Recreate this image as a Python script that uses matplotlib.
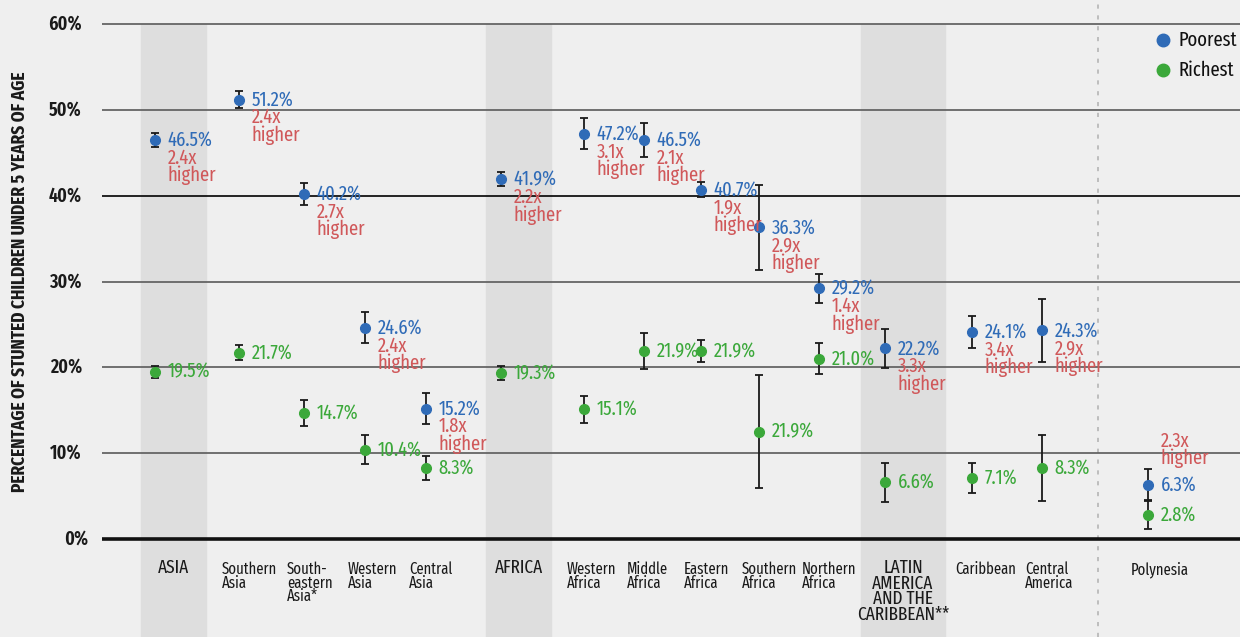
import matplotlib
matplotlib.use("Agg")
import matplotlib.pyplot as plt

# data
regions = ["ASIA", "Southern\nAsia", "South-\neastern\nAsia*", "Western\nAsia", "Central\nAsia",
           "AFRICA", "Western\nAfrica", "Middle\nAfrica", "Eastern\nAfrica", "Southern\nAfrica",
           "Northern\nAfrica", "LATIN\nAMERICA\nAND THE\nCARIBBEAN**", "Caribbean", "Central\nAmerica",
           "Polynesia"]
is_group = [True, False, False, False, False, True, False, False, False, False, False,
            True, False, False, False]

poorest = [46.5, 51.2, 40.2, 24.6, 15.2, 41.9, 47.2, 46.5, 40.7, 36.3, 29.2, 22.2, 24.1, 24.3, 6.3]
poorest_err = [0.8, 1.0, 1.3, 1.8, 1.8, 0.8, 1.8, 2.0, 0.9, 5.0, 1.7, 2.3, 1.9, 3.7, 1.8]
poorest_lbl = ["46.5%", "51.2%", "40.2%", "24.6%", "15.2%", "41.9%", "47.2%", "46.5%", "40.7%",
               "36.3%", "29.2%", "22.2%", "24.1%", "24.3%", "6.3%"]

richest = [19.5, 21.7, 14.7, 10.4, 8.3, 19.3, 15.1, 21.9, 21.9, 12.5, 21.0, 6.6, 7.1, 8.3, 2.8]
richest_err = [0.7, 0.9, 1.5, 1.7, 1.4, 0.8, 1.6, 2.1, 1.3, 6.6, 1.8, 2.3, 1.75, 3.85, 1.6]
richest_lbl = ["19.5%", "21.7%", "14.7%", "10.4%", "8.3%", "19.3%", "15.1%", "21.9%", "21.9%",
               "21.9%", "21.0%", "6.6%", "7.1%", "8.3%", "2.8%"]

ratio = ["2.4x", "2.4x", "2.7x", "2.4x", "1.8x", "2.2x", "3.1x", "2.1x", "1.9x", "2.9x",
         "1.4x", "3.3x", "3.4x", "2.9x", "2.3x"]

yticks = [0, 10, 20, 30, 40, 50, 60]

# layout (pixel columns of the reference)
xpos = [155, 239, 304, 365, 426, 501, 584, 644, 701, 759, 819, 885, 972, 1042, 1148]
bands = [(141, 206), (486, 551), (861, 945)]

BLUE = "#2f6bb7"
GREEN = "#3ba83a"
RED = "#d0585a"
BG = "#efefef"

plt.rcParams["font.family"] = ["Fira Sans Extra Condensed", "Barlow Condensed", "DejaVu Sans"]

fig = plt.figure(figsize=(12.4, 6.37), dpi=100, facecolor=BG)
ax = fig.add_axes([0, 0, 1, 1])
ax.set_facecolor(BG)
ax.axis("off")

# pixel rows: 60% at y=24, 0% at y=539
ppu = (539 - 24) / 60.0
top = 60 + 24 / ppu
bottom = -(637 - 539) / ppu
ax.set_xlim(0, 1240)
ax.set_ylim(bottom, top)

for x0, x1 in bands:
    ax.axvspan(x0, x1, ymin=0, ymax=(60 - bottom) / (top - bottom), color="#dedede", zorder=0)

ax.vlines(1098, bottom, top, colors="#b5b5b5", linestyles=(0, (2.5, 4)), lw=1.2, zorder=0)

for t in yticks:
    if t == 0:
        ax.hlines(t, 102, 1240, colors="#111111", lw=2.6, zorder=1)
    else:
        ax.hlines(t, 102, 1240, colors="#000000" if t == 40 else "#5a5a5a", lw=1.2, zorder=1)
    ax.text(88 if t == 0 else 82, t, f"{t}%", ha="right", va="center", fontsize=14,
            fontweight="semibold", color="#1a1a1a")

ax.text(20, 30, "PERCENTAGE OF STUNTED CHILDREN UNDER 5 YEARS OF AGE", rotation=90,
        ha="center", va="center", fontsize=13.5, fontweight="bold", color="#1a1a1a")

ax.errorbar(xpos, poorest, yerr=poorest_err, fmt="o", color=BLUE, ms=7, ecolor="#1a1a1a",
            elinewidth=1.3, capsize=3, capthick=1.3, zorder=3)
ax.errorbar(xpos, richest, yerr=richest_err, fmt="o", color=GREEN, ms=7, ecolor="#1a1a1a",
            elinewidth=1.3, capsize=3, capthick=1.3, zorder=3)

for i, x in enumerate(xpos):
    ax.annotate(poorest_lbl[i], (x, poorest[i]), xytext=(9, 0), textcoords="offset points",
                ha="left", va="center", fontsize=14.5, color=BLUE, zorder=4)
    ax.annotate(richest_lbl[i], (x, richest[i]), xytext=(9, 0), textcoords="offset points",
                ha="left", va="center", fontsize=14.5, color=GREEN, zorder=4)
    if regions[i] == "Polynesia":
        ax.annotate(ratio[i] + "\nhigher", (x, poorest[i]), xytext=(9, 12), textcoords="offset points",
                    ha="left", va="bottom", fontsize=14.5, color=RED, linespacing=0.85, zorder=4)
    else:
        ax.annotate(ratio[i] + "\nhigher", (x, poorest[i]), xytext=(9, -6), textcoords="offset points",
                    ha="left", va="top", fontsize=14.5, color=RED, linespacing=0.85, zorder=4)

for i, x in enumerate(xpos):
    if is_group[i]:
        b = [bb for bb in bands if bb[0] <= x <= bb[1]][0]
        ax.text((b[0] + b[1]) / 2, -2.3, regions[i], ha="center", va="top", fontsize=13.5,
                color="#1a1a1a", linespacing=0.85)
    else:
        ax.text(x - 17, -2.6, regions[i], ha="left", va="top", fontsize=11.5,
                color="#1a1a1a", linespacing=0.8)

# legend
ax.plot([1163], [58.15], "o", color=BLUE, ms=9)
ax.plot([1163], [54.65], "o", color=GREEN, ms=9)
ax.text(1178, 58.15, "Poorest", ha="left", va="center", fontsize=14.5, color="#111111")
ax.text(1178, 54.65, "Richest", ha="left", va="center", fontsize=14.5, color="#111111")

fig.savefig("out.png", dpi=100, facecolor=BG)
